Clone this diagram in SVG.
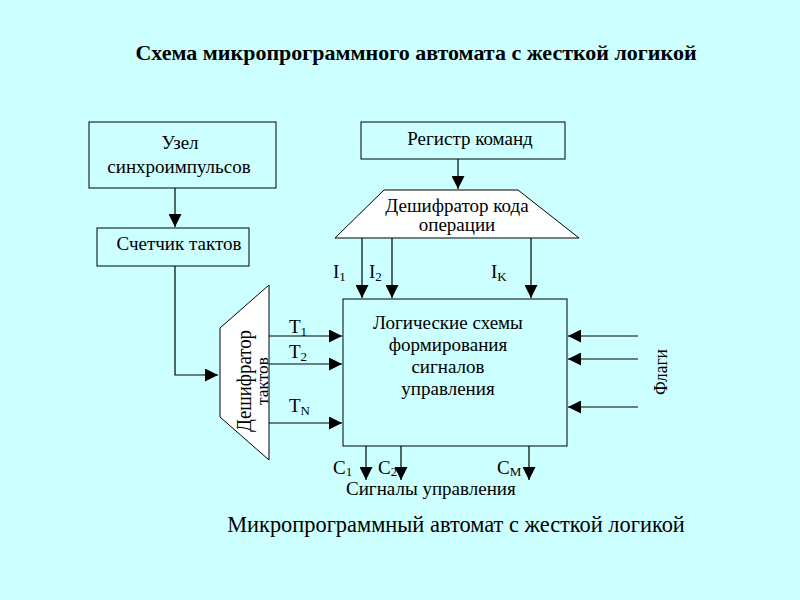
<svg xmlns="http://www.w3.org/2000/svg" width="800" height="600" viewBox="0 0 800 600">
<defs>
<marker id="ah" viewBox="0 0 13 13" refX="13" refY="6.5" markerWidth="13" markerHeight="13" markerUnits="userSpaceOnUse" orient="auto">
<path d="M0,0 L13,6.5 L0,13 Z" fill="#000"/>
</marker>
<style>
text{font-family:"Liberation Serif","Times New Roman",serif;fill:#000}
.t{font-size:19px}
.s{font-size:13px}
.box{fill:none;stroke:#000;stroke-width:1}
.sh{fill:#fff;stroke:#000;stroke-width:1}
.c line,.c polyline{stroke:#000;stroke-width:1.2;fill:none;marker-end:url(#ah)}
</style>
</defs>
<rect width="800" height="600" fill="#ccffff"/>
<text x="416" y="60" text-anchor="middle" style="font-size:22px;font-weight:bold">Схема микропрограммного автомата с жесткой логикой</text>

<g id="sync">
<rect class="box" x="89" y="122" width="187" height="66"/>
<text class="t" x="180" y="149" text-anchor="middle">Узел</text>
<text class="t" x="179" y="173" text-anchor="middle">синхроимпульсов</text>
</g>
<g id="counter">
<rect class="box" x="97" y="228" width="152" height="38"/>
<text class="t" x="179" y="250" text-anchor="middle">Счетчик тактов</text>
</g>
<g id="register">
<rect class="box" x="361" y="122" width="204" height="37"/>
<text class="t" x="470" y="145" text-anchor="middle">Регистр команд</text>
</g>
<g id="opdecoder">
<polygon class="sh" points="384,190 518,190 579,238 335,238"/>
<text class="t" x="457" y="212" text-anchor="middle">Дешифратор кода</text>
<text class="t" x="457" y="231" text-anchor="middle">операции</text>
</g>
<g id="tactdecoder">
<polygon class="sh" points="269,285 269,460 220,417 220,328"/>
<text transform="translate(251 381) rotate(-90)" text-anchor="middle" textLength="102" lengthAdjust="spacingAndGlyphs" style="font-size:21px">Дешифратор</text>
<text transform="translate(268 381) rotate(-90)" text-anchor="middle" textLength="48" lengthAdjust="spacingAndGlyphs" style="font-size:17px">тактов</text>
</g>
<g id="logic">
<rect class="box" x="343" y="299" width="224" height="147"/>
<text class="t" x="448" y="329" text-anchor="middle">Логические схемы</text>
<text class="t" x="448" y="351" text-anchor="middle">формирования</text>
<text class="t" x="448" y="373" text-anchor="middle">сигналов</text>
<text class="t" x="448" y="395" text-anchor="middle">управления</text>
</g>
<g id="flags">
<text transform="translate(667 372) rotate(-90)" text-anchor="middle" textLength="46" lengthAdjust="spacingAndGlyphs" style="font-size:19px">Флаги</text>
</g>

<g id="connectors" class="c">
<line x1="175" y1="188" x2="175" y2="227"/>
<polyline points="175,266 175,375 218,375"/>
<line x1="458" y1="159" x2="458" y2="189"/>
<line x1="362" y1="238" x2="362" y2="298"/>
<line x1="392" y1="238" x2="392" y2="298"/>
<line x1="531" y1="238" x2="531" y2="298"/>
<line x1="269" y1="336" x2="342" y2="336"/>
<line x1="269" y1="364" x2="342" y2="364"/>
<line x1="269" y1="423" x2="342" y2="423"/>
<line x1="638" y1="336" x2="568" y2="336"/>
<line x1="638" y1="359" x2="568" y2="359"/>
<line x1="638" y1="407" x2="568" y2="407"/>
<line x1="366" y1="446" x2="366" y2="480"/>
<line x1="401" y1="446" x2="401" y2="480"/>
<line x1="529" y1="446" x2="529" y2="480"/>
</g>

<g id="labels">
<text class="t" x="333" y="278">I<tspan class="s" dy="3">1</tspan></text>
<text class="t" x="369" y="278">I<tspan class="s" dy="3">2</tspan></text>
<text class="t" x="491" y="278">I<tspan class="s" dy="3">K</tspan></text>
<text class="t" x="289" y="333">T<tspan class="s" dy="3">1</tspan></text>
<text class="t" x="289" y="358">T<tspan class="s" dy="3">2</tspan></text>
<text class="t" x="289" y="412">T<tspan class="s" dy="3">N</tspan></text>
<text class="t" x="333" y="474">C<tspan class="s" dy="2">1</tspan></text>
<text class="t" x="378" y="474">C<tspan class="s" dy="2">2</tspan></text>
<text class="t" x="497" y="474">C<tspan class="s" dy="2">M</tspan></text>
<text class="t" x="346" y="495">Сигналы управления</text>
</g>
<text x="456" y="532" text-anchor="middle" style="font-size:22.4px">Микропрограммный автомат с жесткой логикой</text>
</svg>
